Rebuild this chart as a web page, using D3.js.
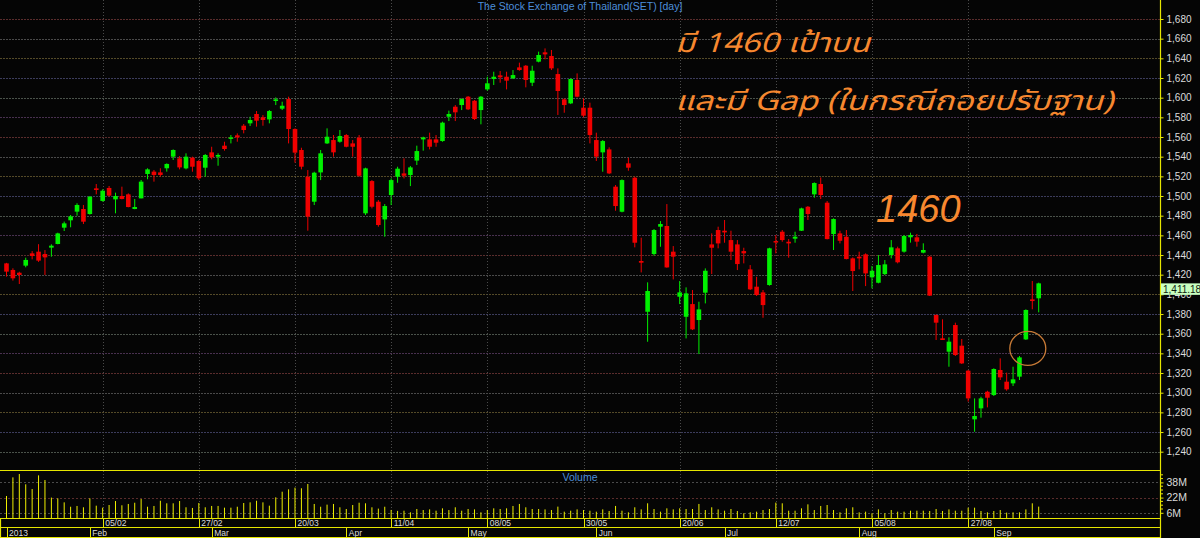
<!DOCTYPE html>
<html>
<head>
<meta charset="utf-8">
<script src="https://cdn.jsdelivr.net/npm/d3@7"></script>
<style>
  html, body { margin: 0; padding: 0; background: #000; }
  svg { display: block; }
</style>
</head>
<body>
<svg id="chart" width="1200" height="538"></svg>
<script>
// SET index, daily bars (trading-day index 0..161)
const open = [1431.5,1424.8,1422,1429.2,1441.7,1443.4,1441,1447.5,1451.2,1467.8,1475.3,1484.1,1486.8,1481.7,1507.8,1495,1508.2,1496.6,1500,1501.7,
  1486.8,1497.6,1522.4,1524.8,1524,1528.2,1540,1538.3,1528.1,1539,1535.6,1528.8,1544.4,1540,1551.2,1558.3,1561.7,1571.5,1573.9,1583.4,
  1580,1577.9,1596.6,1588.8,1598.6,1568.1,1546.8,1519.6,1494.2,1524,1553.5,1556.9,1555.2,1562,1553.5,1559.3,1482.4,1515.2,1494.2,1476.2,
  1501,1519.6,1523,1521.3,1536,1557.6,1557.6,1557.6,1555.9,1580.6,1590.8,1592.5,1601,1596.9,1587.4,1608.4,1619,1622.7,1621.3,1619.6,
  1630.8,1632.5,1615.2,1636.6,1646.1,1642.4,1624,1598.3,1594.2,1618,1589.8,1589.8,1556.9,1544.4,1547.4,1509.5,1484,1533.2,1518.6,1433.9,
  1382.3,1441,1468.8,1469.5,1443.4,1397.6,1377.2,1390.1,1373.9,1401.7,1450.8,1465.4,1464.7,1455.2,1450.8,1444,1425.4,1407.8,1402,1409.5,
  1454.2,1463.7,1453.5,1456.6,1464.7,1489.1,1501.7,1512.2,1493.2,1461.3,1462,1458.6,1436.6,1438.3,1440.7,1417.3,1411.8,1420.6,1440,1446.8,
  1443.4,1458,1458,1442.4,1438.3,1379,1355.3,1341.7,1368.8,1347.8,1322.4,1272.9,1284.1,1301,1297.6,1323.1,1311.2,1309.5,1316.3,1354.2,
  1394.9,1396];
const high = [1432,1426.5,1423,1437.3,1444,1451,1445,1450.9,1462.7,1474,1480.7,1492.6,1490.9,1500,1512.2,1506.8,1510.2,1503.4,1509.5,1502.7,
  1497,1516.3,1528.2,1526.5,1528.2,1533.2,1547.4,1540.6,1543.4,1540,1536.6,1542.7,1550.1,1543.4,1555.2,1562,1563.7,1573.2,1580.6,1586.4,
  1582.3,1587.4,1600.3,1595.9,1601,1568.8,1549.1,1526.4,1524.7,1546.8,1568.8,1562,1567.1,1563,1556.9,1562,1528.8,1516.2,1495.9,1491.8,
  1517.9,1529.8,1538.3,1530.5,1551.2,1560.3,1564.4,1562,1575.6,1586.8,1592.5,1599.3,1601.7,1597.6,1601.7,1621.3,1626.4,1627.1,1626.4,1628.1,
  1635.6,1633.2,1632.5,1646.8,1650.1,1648.5,1629.8,1599.3,1619.6,1624.7,1599.3,1594.9,1564.4,1556.9,1549.5,1511.2,1516.9,1538.9,1519.6,1457.6,
  1412.2,1466.4,1474.5,1491.8,1449.1,1413.5,1407.1,1404.4,1392.5,1426.4,1462,1468.8,1475.6,1464.7,1455.2,1447.4,1429.8,1417.9,1404.4,1447.4,
  1460.3,1465.4,1456.2,1463.7,1488.1,1489.8,1513.9,1518.9,1494.9,1477.3,1464.7,1465.4,1437.6,1443.4,1441.7,1428.8,1440,1434.9,1455.2,1448.5,
  1460.4,1462.7,1461.4,1451.9,1439,1379.7,1374.6,1356.3,1371.2,1354.6,1323.1,1294.2,1295.9,1302,1324.8,1334.9,1320.4,1326.4,1337.3,1384.8,
  1413.6,1411.9];
const low = [1418,1414,1410.5,1427.5,1435.6,1433,1419.7,1438.3,1450.9,1464.4,1468.2,1480,1471.5,1481,1501.7,1494.3,1499.3,1482.4,1496.6,1488.5,
  1486.5,1497.6,1517,1514.6,1519.7,1524.8,1536.6,1527.1,1527.1,1524.7,1516.3,1519.7,1537.3,1530.8,1546.1,1553.5,1555.2,1563.7,1571.2,1570.5,
  1571.5,1573.9,1592.5,1587.4,1553.5,1533.9,1527.1,1464.7,1490.8,1516.2,1552.9,1540,1554.2,1549.5,1540,1519.6,1480.7,1487.4,1468.8,1458.6,
  1490.8,1513.5,1517.9,1510.1,1531.5,1546.1,1547.4,1550.1,1555.2,1576.2,1576.2,1587.4,1587.4,1577.3,1572.9,1607.1,1612.9,1615.2,1608.4,1619,
  1627.4,1610.5,1611.8,1635.9,1639,1628.1,1582.4,1584.7,1593.5,1600.3,1580,1553.5,1535.6,1524.7,1522.3,1485,1483.4,1525.7,1447.8,1422.3,
  1351.8,1439.3,1448.4,1427.1,1415.2,1390.1,1355.2,1363.7,1339.3,1390.8,1420.6,1446.8,1452.5,1434.9,1424.7,1431.5,1404.4,1398.3,1376.2,1408.8,
  1441.7,1453.5,1437.3,1452.5,1464.4,1475.6,1498.3,1496.9,1455.9,1445.1,1451.8,1435.6,1403.4,1425.4,1408.4,1406.1,1411.2,1419.6,1436.6,1431.5,
  1442.4,1452.6,1448.5,1441.7,1398.3,1353.6,1353.6,1326.4,1337.3,1329.2,1290.9,1260.3,1274.6,1285.1,1296.6,1312.9,1302,1306.8,1312.9,1353.6,
  1384.8,1381.7];
const close = [1423.1,1416.3,1419.7,1435,1439,1434.3,1437.6,1449.5,1462,1472.2,1479.3,1490.9,1473.9,1499.3,1506.1,1505.4,1500.4,1500,1497,1488.8,
  1488.8,1514.6,1527.1,1521.4,1521.4,1532.6,1546.8,1529.1,1540,1529.8,1518,1541.7,1539.3,1541.7,1547.8,1559.6,1559.6,1567.1,1577.3,1576.6,
  1577.3,1586.4,1598.3,1591.8,1568.1,1544.1,1529.8,1479,1523.7,1543.4,1560.3,1544.4,1561,1550.1,1550.1,1520.6,1528.1,1489.1,1470.5,1489.8,
  1516.2,1527.8,1520.6,1529.1,1545.7,1559.6,1550.1,1554.2,1574.6,1583.4,1585.1,1598.6,1588.1,1578.3,1601,1614.6,1621.3,1620.7,1617.3,1623,
  1628.1,1618,1627.4,1643.4,1644,1629.8,1606.8,1592.5,1619,1601,1581.7,1562,1540,1555.9,1523,1489.8,1516.2,1528.8,1452.5,1432.2,
  1403.4,1465.4,1471.5,1427.4,1438.3,1402,1401,1364.4,1384.7,1424,1447.4,1451.8,1463,1443.4,1430.8,1441.7,1405.1,1399.3,1389.1,1446.8,
  1452.8,1455.2,1451.8,1458.6,1487.4,1481.7,1513.2,1501,1456.2,1476.6,1454.5,1435.9,1423.7,1436.6,1421.3,1424,1429.8,1430.5,1447.8,1432.6,
  1459.3,1460.4,1453.6,1445.1,1398.7,1371.2,1353.6,1351.9,1338.3,1329.8,1294.2,1276.3,1294.2,1294.9,1324.1,1315.6,1303.4,1313.6,1335.9,1384.1,
  1393.2,1411.18];
// volume, millions
const volume = [23.7,43.3,46.8,36,31,45.4,40.5,22,21.2,17,12.4,13.2,11.8,21.2,13.5,11.4,14.2,18.4,13.9,15.3,
  16.6,20.5,12.4,13.2,18.7,16,16,18.4,11.8,11.1,16.3,11.8,13.2,13.2,11.4,11.4,12.4,16.3,17,18.7,
  17,13.5,22.3,28.2,30.7,32.5,31.8,36.3,15.3,12.4,14.6,15.3,11.8,10,14.2,16.6,16,11.8,10.4,12.4,
  9,8,8.2,6.5,10,8.9,9.6,8.2,10.7,8.9,11.8,8.2,10,9.6,6.5,8.9,10.7,10,10.7,13.2,
  15.3,11.8,10,10,9.6,8.9,12.5,7.2,8.2,9.6,8.9,8.2,7.2,9.6,7.9,13.2,8.2,6.5,11.8,9.6,
  16,10,7.2,10.7,9.6,10.7,10,10,15.3,8.9,11.8,9.6,8.2,10,7.9,5.5,6.5,7.2,8.9,10,
  16.7,16,8.2,8.2,10.7,14.9,8.9,13.2,14.2,8.9,6.5,10.7,11.8,6.5,7.2,5.5,9.6,5.5,8.9,7.2,
  7.2,8.2,8.2,8.2,7.9,10,7.9,9.6,8.2,8.2,11.4,11.4,7.9,6.5,7.9,8.9,6.2,6.5,6.5,9.6,
  16,12.5];

const dateTickBars = [15, 30, 45, 60, 75, 90, 105, 120, 135, 150];
const dateTickLabels = ['05/02', '27/02', '20/03', '11/04', '08/05', '30/05', '20/06', '12/07', '05/08', '27/08'];
const monthBars = [0, 13, 32, 53, 72, 92, 112, 133, 154];
const monthLabels = ['2013', 'Feb', 'Mar', 'Apr', 'May', 'Jun', 'Jul', 'Aug', 'Sep'];
const priceTicks = d3.range(1240, 1681, 20);
const volumeTicks = [6, 22, 38];
const lastPrice = 1411.18;

const svg = d3.select('#chart');
const width = 1200, height = 538;
const axisX = 1160.5;
const volTop = 470.5, volBase = 518.5;
const rowMid = 527.5, rowBottom = 537.5;

const yellow = '#e6e600';
const green = '#00f000';
const red = '#f00000';
const orange = '#f7882f';

svg.append('rect').attr('width', width).attr('height', height).attr('fill', '#050505');

const x = d3.scaleLinear().domain([0, close.length - 1]).range([6.5, 1038.7]);
const y = d3.scaleLinear().domain([1240, 1680]).range([451.7, 19]);
const yv = d3.scaleLinear().domain([0, 50]).range([volBase, volBase - 47.5]);

// horizontal price grid, colours cycle like the source terminal
const gridColors = ['#4a524a', '#3c3c5c', '#544a28', '#4a4a4a', '#5a2c2c', '#48304f'];
svg.append('g')
  .selectAll('line')
  .data(priceTicks)
  .join('line')
  .attr('x1', 0).attr('x2', axisX)
  .attr('y1', d => Math.round(y(d)) + 0.5).attr('y2', d => Math.round(y(d)) + 0.5)
  .attr('stroke', (d, i) => gridColors[i % gridColors.length])
  .attr('stroke-dasharray', '2,1');

// volume grid
svg.append('g')
  .selectAll('line')
  .data(volumeTicks)
  .join('line')
  .attr('x1', 0).attr('x2', axisX)
  .attr('y1', d => Math.round(yv(d)) + 0.5).attr('y2', d => Math.round(yv(d)) + 0.5)
  .attr('stroke', (d, i) => ['#4a4a4a', '#5a2c2c', '#4a4a4a'][i])
  .attr('stroke-dasharray', '2,2');

// vertical grid
svg.append('g')
  .selectAll('line')
  .data(dateTickBars)
  .join('line')
  .attr('x1', d => Math.round(x(d)) + 0.5).attr('x2', d => Math.round(x(d)) + 0.5)
  .attr('y1', 0).attr('y2', volBase)
  .attr('stroke', '#4a4a4a')
  .attr('stroke-dasharray', '1,2');

// title
svg.append('text')
  .attr('x', 580).attr('y', 10)
  .attr('text-anchor', 'middle')
  .attr('font-family', 'Liberation Sans, Arial, sans-serif')
  .attr('font-size', 10.5)
  .attr('fill', '#4d8fdb')
  .text('The Stock Exchange of Thailand(SET) [day]');

// candles
const bars = close.map((c, i) => ({ i, o: open[i], h: high[i], l: low[i], c }));
const candles = svg.append('g').selectAll('g').data(bars).join('g');
candles.append('line')
  .attr('x1', d => x(d.i)).attr('x2', d => x(d.i))
  .attr('y1', d => y(d.h)).attr('y2', d => y(d.l))
  .attr('stroke', d => d.c >= d.o ? green : red)
  .attr('stroke-width', 1);
candles.append('rect')
  .attr('x', d => x(d.i) - 2.3)
  .attr('width', 4.6)
  .attr('y', d => y(Math.max(d.o, d.c)))
  .attr('height', d => Math.max(1.5, Math.abs(y(d.o) - y(d.c))))
  .attr('fill', d => d.c >= d.o ? green : red);

// volume bars
svg.append('g')
  .selectAll('line')
  .data(volume)
  .join('line')
  .attr('x1', (d, i) => x(i)).attr('x2', (d, i) => x(i))
  .attr('y1', volBase).attr('y2', d => yv(d))
  .attr('stroke', '#f0f000')
  .attr('stroke-width', 1);

svg.append('text')
  .attr('x', 580).attr('y', 481)
  .attr('text-anchor', 'middle')
  .attr('font-family', 'Liberation Sans, Arial, sans-serif')
  .attr('font-size', 10.5)
  .attr('fill', '#4d8fdb')
  .text('Volume');

// frame lines
const frame = svg.append('g').attr('stroke', yellow).attr('stroke-width', 1.2);
frame.append('line').attr('x1', 0).attr('x2', axisX).attr('y1', volTop).attr('y2', volTop);
frame.append('line').attr('x1', 0).attr('x2', axisX).attr('y1', volBase).attr('y2', volBase);
frame.append('line').attr('x1', 0).attr('x2', axisX).attr('y1', rowMid).attr('y2', rowMid);
frame.append('line').attr('x1', 0).attr('x2', axisX).attr('y1', rowBottom).attr('y2', rowBottom);
frame.append('line').attr('x1', 0.5).attr('x2', 0.5).attr('y1', volBase).attr('y2', rowBottom);
frame.append('line').attr('x1', axisX).attr('x2', axisX).attr('y1', 0).attr('y2', height);

// price axis
const yAxis = svg.append('g')
  .attr('transform', `translate(${axisX},0)`)
  .call(d3.axisRight(y).tickValues(priceTicks).tickSize(3).tickPadding(3).tickFormat(d3.format(',')));
yAxis.select('.domain').remove();
yAxis.selectAll('.tick line').attr('stroke', yellow);
yAxis.selectAll('.tick text')
  .attr('fill', '#dcdcdc')
  .attr('font-family', 'Liberation Sans, Arial, sans-serif')
  .attr('font-size', 10);

// last price box (drawn over the 1,400 label as in the source)
const lp = svg.append('g').attr('transform', `translate(${axisX + 0.5},${y(lastPrice)})`);
lp.append('rect').attr('width', 39).attr('height', 11.5).attr('fill', '#c8ffc0');
lp.append('text').attr('x', 2).attr('y', 9.5)
  .attr('font-family', 'Liberation Sans, Arial, sans-serif')
  .attr('font-size', 10)
  .attr('fill', '#102010')
  .text(d3.format(',.2f')(lastPrice));

// volume axis
const vAxis = svg.append('g')
  .attr('transform', `translate(${axisX},0)`)
  .call(d3.axisRight(yv).tickValues(volumeTicks).tickSize(3).tickPadding(3).tickFormat(d => d + 'M'));
vAxis.select('.domain').remove();
vAxis.selectAll('.tick line').attr('stroke', yellow);
vAxis.selectAll('.tick text')
  .attr('fill', '#dcdcdc')
  .attr('font-family', 'Liberation Sans, Arial, sans-serif')
  .attr('font-size', 10.5);
svg.append('g')
  .selectAll('line')
  .data([10, 14, 18, 26, 30, 34, 42, 46])
  .join('line')
  .attr('x1', axisX).attr('x2', axisX + 2.5)
  .attr('y1', d => yv(d)).attr('y2', d => yv(d))
  .attr('stroke', yellow);

// date row
const dates = svg.append('g');
dates.selectAll('line')
  .data(dateTickBars)
  .join('line')
  .attr('x1', d => Math.round(x(d)) + 0.5).attr('x2', d => Math.round(x(d)) + 0.5)
  .attr('y1', volBase).attr('y2', rowMid)
  .attr('stroke', yellow);
dates.selectAll('text')
  .data(dateTickBars)
  .join('text')
  .attr('x', d => x(d) + 2.5).attr('y', 525.5)
  .attr('font-family', 'Liberation Sans, Arial, sans-serif')
  .attr('font-size', 8.5)
  .attr('fill', '#dcdcdc')
  .text((d, i) => dateTickLabels[i]);

const months = svg.append('g');
months.selectAll('line')
  .data(monthBars)
  .join('line')
  .attr('x1', d => Math.round(x(d)) + 0.5).attr('x2', d => Math.round(x(d)) + 0.5)
  .attr('y1', rowMid).attr('y2', rowBottom)
  .attr('stroke', yellow);
months.selectAll('text')
  .data(monthBars)
  .join('text')
  .attr('x', d => x(d) + 2.5).attr('y', 535.5)
  .attr('font-family', 'Liberation Sans, Arial, sans-serif')
  .attr('font-size', 8.5)
  .attr('fill', '#dcdcdc')
  .text((d, i) => monthLabels[i]);

// annotations
const thaiFont = "'Noto Sans Thai', Tahoma, 'DejaVu Sans', 'Noto Sans', sans-serif";
svg.append('text')
  .attr('x', 675).attr('y', 52)
  .attr('font-family', thaiFont).attr('font-style', 'italic')
  .attr('font-size', 27).attr('fill', orange)
  .attr('textLength', 195).attr('lengthAdjust', 'spacingAndGlyphs')
  .text('มี 1460 เป้าบน');
svg.append('text')
  .attr('x', 675).attr('y', 110)
  .attr('font-family', thaiFont).attr('font-style', 'italic')
  .attr('font-size', 27).attr('fill', orange)
  .attr('textLength', 438).attr('lengthAdjust', 'spacingAndGlyphs')
  .text('และมี Gap (ในกรณีถอยปรับฐาน)');
svg.append('text')
  .attr('x', 876).attr('y', 222)
  .attr('font-family', 'Liberation Sans, Arial, sans-serif').attr('font-style', 'italic')
  .attr('font-size', 38).attr('fill', orange)
  .text('1460');

svg.append('ellipse')
  .attr('cx', x(159.3)).attr('cy', y(1345))
  .attr('rx', 18).attr('ry', 17)
  .attr('fill', 'none')
  .attr('stroke', '#c77a36')
  .attr('stroke-width', 1.3);
</script>
</body>
</html>
